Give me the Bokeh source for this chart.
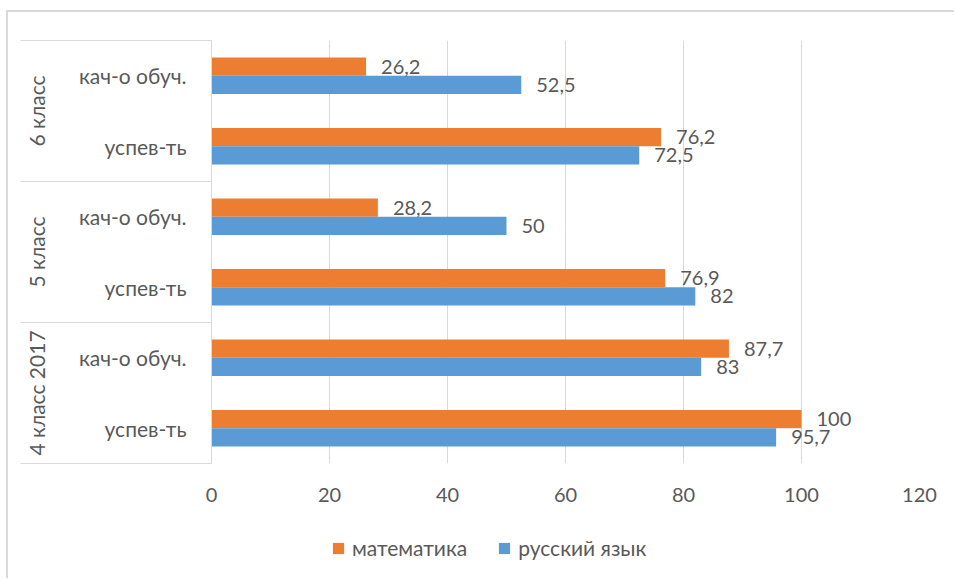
from bokeh.plotting import figure
from bokeh.layouts import column
from bokeh.models import Range1d, LinearAxis, FixedTicker, ColumnDataSource, Legend, LegendItem
from bokeh.transform import dodge
from bokeh.core.properties import value
from bokeh.embed import file_html
from bokeh.resources import INLINE

# ---- data ----
groups = ["4 класс 2017", "5 класс", "6 класс"]
measures = ["успев-ть", "кач-о обуч."]
math_vals = [100, 87.7, 76.9, 28.2, 76.2, 26.2]
rus_vals = [95.7, 83, 82, 50, 72.5, 52.5]
x_ticks = [0, 20, 40, 60, 80, 100, 120]
series_names = ["математика", "русский язык"]
series_colors = ["#ED7D31", "#5B9BD5"]

FONT = "Lato"
TXT = "#595959"
GRID = "#D9D9D9"

rows = [(g, m) for g in groups for m in measures]
n = len(rows)
ypos = [i + 0.5 for i in range(n)]
per = len(measures)
group_centers = [per * k + per / 2 for k in range(len(groups))]
group_edges = [per * k for k in range(len(groups) + 1)]


def fmt(v):
    return f"{v:g}".replace(".", ",")


src = ColumnDataSource(dict(
    y=ypos, math=math_vals, rus=rus_vals,
    math_lbl=[fmt(v) for v in math_vals],
    rus_lbl=[fmt(v) for v in rus_vals],
))

p = figure(width=946, height=506, output_backend="svg", toolbar_location=None,
           x_range=Range1d(x_ticks[0], x_ticks[-1]), y_range=Range1d(0, n),
           y_axis_location=None,
           min_border_left=203, min_border_top=28, min_border_right=35, min_border_bottom=55)
p.outline_line_color = None
p.background_fill_color = "white"
p.border_fill_color = "white"

# x axis
xa = p.xaxis[0]
xa.ticker = FixedTicker(ticks=x_ticks)
xa.axis_line_color = None
xa.major_tick_line_color = None
xa.minor_tick_line_color = None
xa.major_tick_out = 0
xa.major_tick_in = 0
xa.major_label_standoff = 24
xa.major_label_text_font = FONT
xa.major_label_text_font_size = "20px"
xa.major_label_text_color = TXT
p.xgrid.ticker = FixedTicker(ticks=x_ticks)
p.xgrid.grid_line_color = GRID
p.xgrid.grid_line_width = 1
p.ygrid.visible = False

# category axis (inner level) with separators
SEP = 191
ax = LinearAxis(ticker=FixedTicker(ticks=ypos, minor_ticks=group_edges),
                major_label_overrides={y: m for y, (g, m) in zip(ypos, rows)})
ax.axis_line_color = GRID
ax.major_tick_line_color = None
ax.major_tick_out = 0
ax.major_tick_in = 0
ax.minor_tick_line_color = GRID
ax.minor_tick_out = SEP
ax.minor_tick_in = 0
ax.major_label_standoff = 25 - SEP
ax.major_label_text_font = FONT
ax.major_label_text_font_size = "21px"
ax.major_label_text_color = TXT
p.add_layout(ax, "left")

# category axis (outer level)
gax = LinearAxis(ticker=FixedTicker(ticks=group_centers),
                 major_label_overrides={c: g for c, g in zip(group_centers, groups)},
                 major_label_orientation="vertical")
gax.axis_line_color = None
gax.major_tick_line_color = None
gax.major_tick_out = 0
gax.major_tick_in = 0
gax.minor_tick_line_color = None
gax.major_label_standoff = 27
gax.major_label_text_font = FONT
gax.major_label_text_font_size = "21px"
gax.major_label_text_color = TXT
p.add_layout(gax, "left")

off = 0.13
bh = 0.26
r_m = p.hbar(y=dodge("y", off, range=p.y_range), left=0, right="math", height=bh,
             fill_color=series_colors[0], line_color=None, source=src)
r_r = p.hbar(y=dodge("y", -off, range=p.y_range), left=0, right="rus", height=bh,
             fill_color=series_colors[1], line_color=None, source=src)

common = dict(x_offset=15, text_baseline="middle", text_align="left",
              text_font=value(FONT), text_font_size="20px", text_color=TXT, source=src)
p.text(x="math", y=dodge("y", off, range=p.y_range), text="math_lbl", **common)
p.text(x="rus", y=dodge("y", -off, range=p.y_range), text="rus_lbl", **common)

# legend strip (same series, drawn far outside its view so only the legend shows)
pl = figure(width=946, height=60, output_backend="svg", toolbar_location=None,
            x_range=Range1d(5000, 5001), y_range=Range1d(5000, 5001),
            x_axis_location=None, y_axis_location=None,
            min_border_left=203, min_border_right=35, min_border_top=0, min_border_bottom=0)
pl.outline_line_color = None
pl.grid.visible = False
pl.border_fill_color = "white"
pl.background_fill_color = "white"
lr = [pl.hbar(y="y", left=0, right=col, height=bh, fill_color=c, line_color=None, source=src)
      for col, c in zip(["math", "rus"], series_colors)]
legend = Legend(items=[LegendItem(label=nm, renderers=[r]) for nm, r in zip(series_names, lr)],
                orientation="horizontal", location=(120, 18))
legend.border_line_color = None
legend.background_fill_alpha = 0
legend.padding = 0
legend.margin = 0
legend.spacing = 30
legend.glyph_width = 14
legend.glyph_height = 14
legend.label_standoff = 7
legend.label_text_font = FONT
legend.label_text_font_size = "21px"
legend.label_text_color = TXT
pl.add_layout(legend, "center")

layout = column(p, pl, spacing=0,
                styles={"border-left": "2px solid #D9D9D9", "border-top": "2px solid #D9D9D9",
                        "margin-left": "6px", "margin-top": "10px"})
open("out.html", "w").write(file_html(layout, INLINE))
